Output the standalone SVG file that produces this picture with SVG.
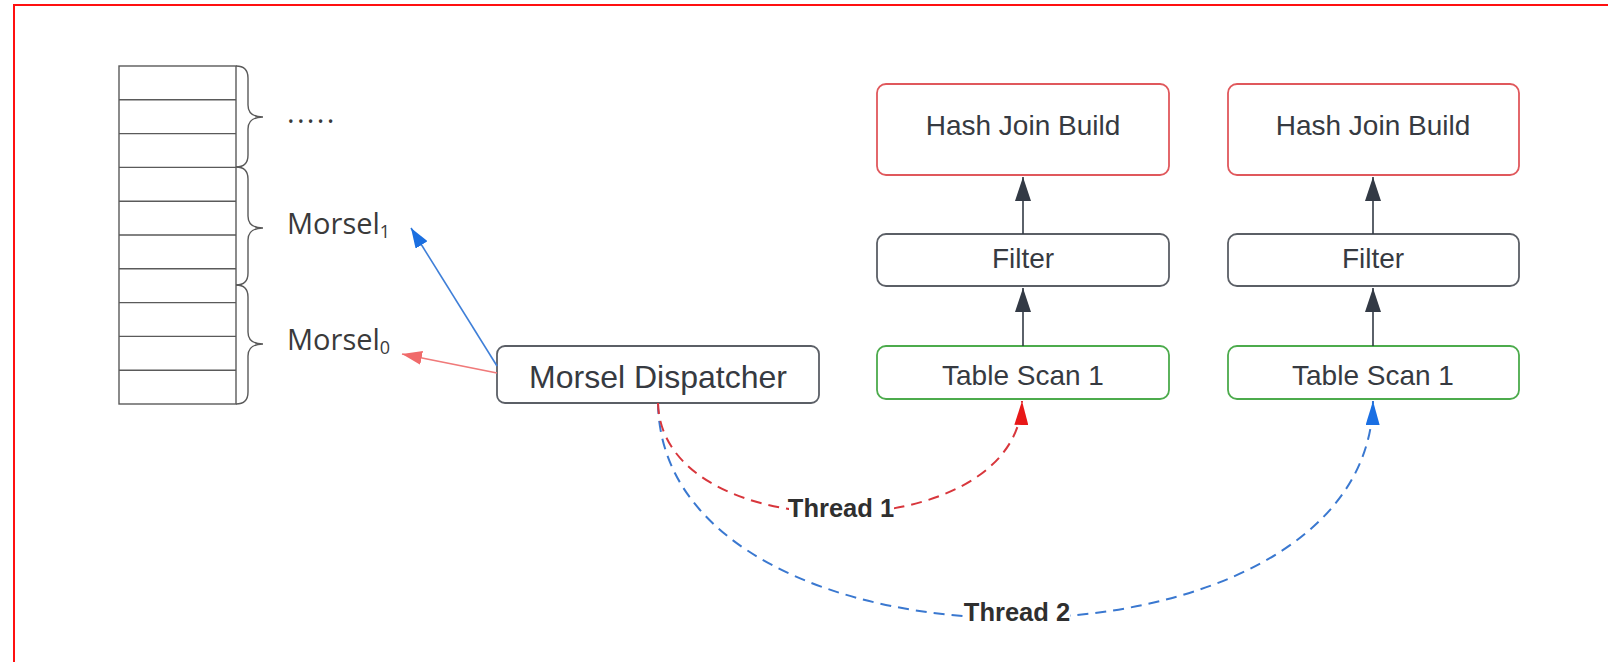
<svg xmlns="http://www.w3.org/2000/svg" width="1608" height="662" viewBox="0 0 1608 662">
  <style>
    .node { fill: #ffffff; stroke-width: 1.8; }
    .gray { stroke: #5b5f66; }
    .red { stroke: #e0585c; }
    .green { stroke: #4cab4c; }
    .label { font-family: "Liberation Sans", Arial, sans-serif; font-size: 28px; fill: #363a41; text-anchor: middle; }
    .morsel { font-family: "Open Sans", "Liberation Sans", sans-serif; font-size: 29px; fill: #3a3a3a; }
    .sub { font-size: 18px; }
    .thread { font-family: "Liberation Sans", Arial, sans-serif; font-size: 25.5px; font-weight: bold; fill: #2f2f2f; text-anchor: middle; }
    .cell { fill: none; stroke: #5a5a5a; stroke-width: 1.4; }
    .brace { fill: none; stroke: #5a5a5a; stroke-width: 1.4; }
    .flow { fill: none; stroke: #333a45; stroke-width: 1.6; }
    .dash { fill: none; stroke-width: 2; stroke-dasharray: 11 7; }
  </style>
  <defs>
    <marker id="headGray" markerUnits="userSpaceOnUse" viewBox="0 0 24 16" refX="24" refY="8" markerWidth="24" markerHeight="16" orient="auto">
      <path d="M0,0 L24,8 L0,16 Z" fill="#333a45"/>
    </marker>
    <marker id="headRed" markerUnits="userSpaceOnUse" viewBox="0 0 24 14" refX="24" refY="7" markerWidth="24" markerHeight="14" orient="auto">
      <path d="M0,0 L24,7 L0,14 Z" fill="#e81818"/>
    </marker>
    <marker id="headBlue" markerUnits="userSpaceOnUse" viewBox="0 0 24 14" refX="24" refY="7" markerWidth="24" markerHeight="14" orient="auto">
      <path d="M0,0 L24,7 L0,14 Z" fill="#1a6fe3"/>
    </marker>
    <marker id="headSalmon" markerUnits="userSpaceOnUse" viewBox="0 0 20 14" refX="20" refY="7" markerWidth="20" markerHeight="14" orient="auto">
      <path d="M0,0 L20,7 L0,14 Z" fill="#f06a6a"/>
    </marker>
    <marker id="headSky" markerUnits="userSpaceOnUse" viewBox="0 0 20 14" refX="20" refY="7" markerWidth="20" markerHeight="14" orient="auto">
      <path d="M0,0 L20,7 L0,14 Z" fill="#1b6fe0"/>
    </marker>
  </defs>

  <rect width="1608" height="662" fill="#ffffff"/>
  <!-- frame -->
  <path d="M14,662 L14,5 L1608,5" fill="none" stroke="#ff1010" stroke-width="2"/>

  <!-- row storage -->
  <g id="storage">
    <rect class="cell" x="119" y="66" width="117" height="338"/>
    <path class="cell" d="M119,99.8H236 M119,133.6H236 M119,167.4H236 M119,201.2H236 M119,235H236 M119,268.8H236 M119,302.6H236 M119,336.4H236 M119,370.2H236"/>
    <path class="brace" d="M236,66 Q248,66 248,78 L248,105 Q248,117 263,117 Q248,117 248,129 L248,155 Q248,167 236,167"/>
    <path class="brace" d="M236,167 Q248,167 248,179 L248,216 Q248,228 263,228 Q248,228 248,240 L248,273 Q248,285 236,285"/>
    <path class="brace" d="M236,285 Q248,285 248,297 L248,332 Q248,344 263,344 Q248,344 248,356 L248,392 Q248,404 236,404"/>
    <text class="morsel" x="287" y="123" letter-spacing="2.3">.....</text>
    <text class="morsel" x="287" y="234">Morsel<tspan class="sub" dy="4">1</tspan></text>
    <text class="morsel" x="287" y="350">Morsel<tspan class="sub" dy="4">0</tspan></text>
  </g>

  <!-- dispatcher -->
  <g id="dispatcher">
    <rect class="node gray" x="497" y="346" width="322" height="57" rx="8"/>
    <text class="label" x="658" y="388" style="font-size:32px">Morsel Dispatcher</text>
  </g>

  <!-- pipeline 1 -->
  <g id="hash1">
    <rect class="node red" x="877" y="84" width="292" height="91" rx="9"/>
    <text class="label" x="1023" y="135">Hash Join Build</text>
  </g>
  <g id="filter1">
    <rect class="node gray" x="877" y="234" width="292" height="52" rx="9"/>
    <text class="label" x="1023" y="268">Filter</text>
  </g>
  <g id="scan1">
    <rect class="node green" x="877" y="346" width="292" height="53" rx="9"/>
    <text class="label" x="1023" y="385">Table Scan 1</text>
  </g>

  <!-- pipeline 2 -->
  <g id="hash2">
    <rect class="node red" x="1228" y="84" width="291" height="91" rx="9"/>
    <text class="label" x="1373" y="135">Hash Join Build</text>
  </g>
  <g id="filter2">
    <rect class="node gray" x="1228" y="234" width="291" height="52" rx="9"/>
    <text class="label" x="1373" y="268">Filter</text>
  </g>
  <g id="scan2">
    <rect class="node green" x="1228" y="346" width="291" height="53" rx="9"/>
    <text class="label" x="1373" y="385">Table Scan 1</text>
  </g>

  <!-- connectors -->
  <g id="connectors">
    <path class="flow" d="M1023,346 L1023,288" marker-end="url(#headGray)"/>
    <path class="flow" d="M1023,234 L1023,177" marker-end="url(#headGray)"/>
    <path class="flow" d="M1373,346 L1373,288" marker-end="url(#headGray)"/>
    <path class="flow" d="M1373,234 L1373,177" marker-end="url(#headGray)"/>

    <path d="M497,366 L411,228" fill="none" stroke="#3f7fd8" stroke-width="1.6" marker-end="url(#headSky)"/>
    <path d="M497,373 L402,354" fill="none" stroke="#f07a7a" stroke-width="1.6" marker-end="url(#headSalmon)"/>

    <path class="dash" stroke="#3a78d0" d="M658,403 C662,690 1369,690 1373,401" marker-end="url(#headBlue)"/>
    <path class="dash" stroke="#d8363c" d="M658,403 C662,550 1018,550 1022,401" marker-end="url(#headRed)"/>

    <rect x="789" y="495" width="105" height="26" fill="#ffffff"/>
    <text class="thread" x="841" y="517">Thread 1</text>
    <rect x="964" y="599" width="106" height="26" fill="#ffffff"/>
    <text class="thread" x="1017" y="621">Thread 2</text>
  </g>
</svg>
